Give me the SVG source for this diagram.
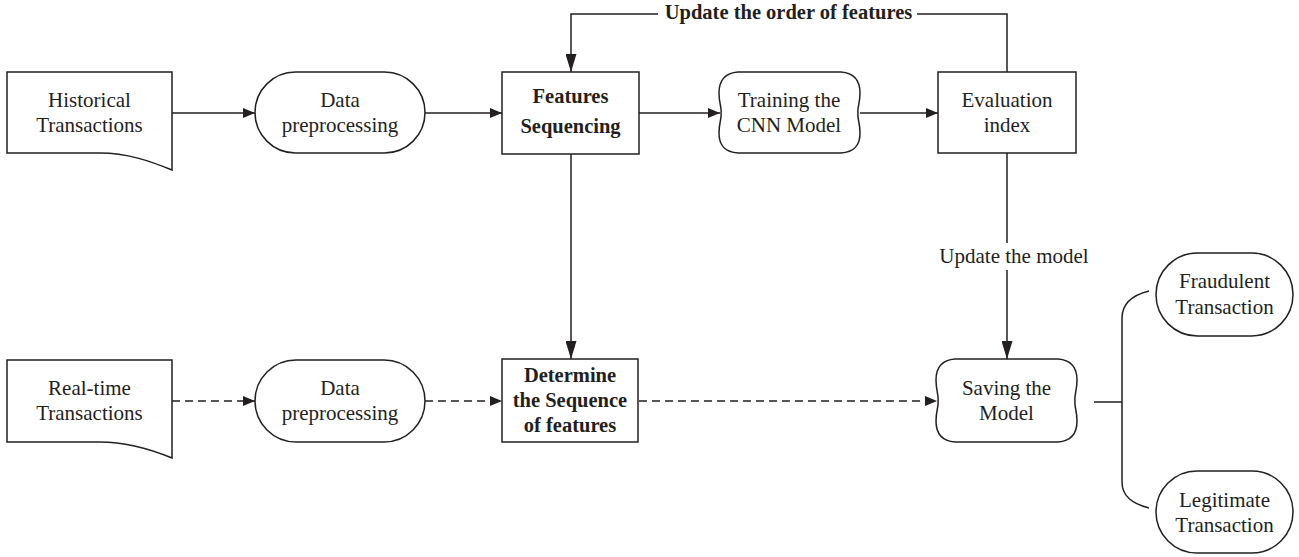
<svg xmlns="http://www.w3.org/2000/svg" width="1299" height="557" viewBox="0 0 1299 557">
<style>
.s{fill:#fff;stroke:#231f20;stroke-width:1.5}
.c{fill:none;stroke:#231f20;stroke-width:1.5}
.d{stroke-dasharray:8 5}
text{font-family:"Liberation Serif","Times New Roman",serif;font-size:21px;fill:#231f20;text-anchor:middle}
.b{font-weight:bold;font-size:20.5px}
</style>
<defs>
<marker id="ah" viewBox="0 0 12 10" refX="12" refY="5" markerWidth="12" markerHeight="10" markerUnits="userSpaceOnUse" orient="auto"><path d="M0,0 L12,5 L0,10 Z" fill="#231f20"/></marker>
<marker id="av" viewBox="0 0 18 11" refX="18" refY="5.5" markerWidth="18" markerHeight="11" markerUnits="userSpaceOnUse" orient="auto"><path d="M0,0 L18,5.5 L0,11 Z" fill="#231f20"/></marker>
</defs>
<rect width="1299" height="557" fill="#fff"/>
<g id="connectors">
<line class="c" x1="172" y1="113" x2="255" y2="113" marker-end="url(#ah)"/>
<line class="c" x1="425" y1="113" x2="502" y2="113" marker-end="url(#ah)"/>
<line class="c" x1="639" y1="113" x2="720" y2="113" marker-end="url(#ah)"/>
<line class="c" x1="860" y1="113" x2="938" y2="113" marker-end="url(#ah)"/>
<polyline class="c" points="1007,72 1007,14 917,14"/>
<polyline class="c" points="658,14 571,14 571,72" marker-end="url(#av)"/>
<line class="c" x1="571" y1="154" x2="571" y2="359" marker-end="url(#av)"/>
<line class="c" x1="1007" y1="153" x2="1007" y2="243"/>
<line class="c" x1="1007" y1="270" x2="1007" y2="359" marker-end="url(#av)"/>
<line class="c d" x1="172" y1="401" x2="255" y2="401" marker-end="url(#ah)"/>
<line class="c d" x1="425" y1="401" x2="502" y2="401" marker-end="url(#ah)"/>
<line class="c d" x1="639" y1="401" x2="937" y2="401" marker-end="url(#ah)"/>
<line class="c" x1="1094" y1="402" x2="1122" y2="402"/>
<path class="c" d="M1149,291 C1133,295 1122,303 1122,318 L1122,482 C1122,497 1133,504 1149,508"/>
<text class="b" x="788.5" y="19">Update the order of features</text>
<text x="1014" y="263">Update the model</text>
</g>
<g id="historical">
<path class="s" d="M7,72 H172 V170 C150,161 127,153 100,153 H7 Z"/>
<text x="89.5" y="107">Historical</text>
<text x="89.5" y="132">Transactions</text>
</g>
<g id="preprocess1">
<rect class="s" x="255" y="72" width="170" height="81" rx="40.5" ry="40.5"/>
<text x="340" y="107">Data</text>
<text x="340" y="132">preprocessing</text>
</g>
<g id="sequencing">
<rect class="s" x="502" y="72" width="137" height="82"/>
<text class="b" x="570.5" y="103">Features</text>
<text class="b" x="570.5" y="133">Sequencing</text>
</g>
<g id="training">
<path class="s" d="M738,72 H841 C854,73 860,80 860,93 C860,104 857,108 858,113 C857,118 860,122 860,133 C860,146 854,152 841,153 H738 C725,152 719,146 719,133 C719,122 722,118 721,113 C722,108 719,104 719,93 C719,80 725,73 738,72 Z"/>
<text x="789" y="107">Training the</text>
<text x="789" y="132">CNN Model</text>
</g>
<g id="evaluation">
<rect class="s" x="938" y="72" width="138" height="81"/>
<text x="1007" y="107">Evaluation</text>
<text x="1007" y="132">index</text>
</g>
<g id="realtime">
<path class="s" d="M7,360 H172 V458 C150,449 127,442 100,442 H7 Z"/>
<text x="89.5" y="395">Real-time</text>
<text x="89.5" y="420">Transactions</text>
</g>
<g id="preprocess2">
<rect class="s" x="255" y="360" width="170" height="82" rx="41" ry="41"/>
<text x="340" y="395">Data</text>
<text x="340" y="420">preprocessing</text>
</g>
<g id="determine">
<rect class="s" x="502" y="359" width="136" height="83"/>
<text class="b" x="570" y="382">Determine</text>
<text class="b" x="570" y="407">the Sequence</text>
<text class="b" x="570" y="432">of features</text>
</g>
<g id="saving">
<path class="s" d="M955,359 H1058 C1071,360 1077,367 1077,380 C1077,391 1074,396 1075,401 C1074,406 1077,410 1077,421 C1077,434 1071,441 1058,442 H955 C942,441 936,434 936,421 C936,410 939,406 938,401 C939,396 936,391 936,380 C936,367 942,360 955,359 Z"/>
<text x="1006.5" y="395">Saving the</text>
<text x="1006.5" y="420">Model</text>
</g>
<g id="fraudulent">
<rect class="s" x="1156" y="253" width="137" height="83" rx="41.5" ry="41.5"/>
<text x="1224.5" y="288">Fraudulent</text>
<text x="1224.5" y="314">Transaction</text>
</g>
<g id="legitimate">
<rect class="s" x="1156" y="471" width="137" height="82" rx="41" ry="41"/>
<text x="1224.5" y="507">Legitimate</text>
<text x="1224.5" y="532">Transaction</text>
</g>
</svg>
